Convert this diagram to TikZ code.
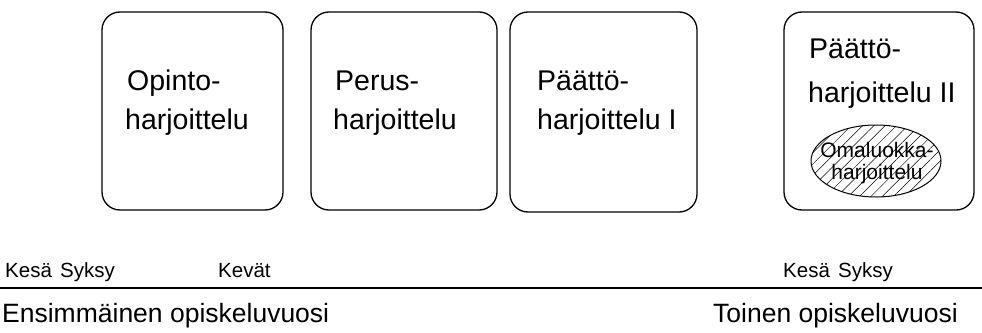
\documentclass[tikz,border=0pt]{standalone}
\usepackage{fontspec}
\setmainfont{Liberation Sans}
\usetikzlibrary{shapes.geometric,patterns.meta}
\begin{document}
\begin{tikzpicture}[x=1pt,y=-1pt,
  phase/.style={draw,line width=1.3pt,rounded corners=18pt},
  boxtext/.style={anchor=base west,inner sep=0pt,font=\fontsize{28.5}{34}\selectfont},
  small/.style={anchor=base west,inner sep=0pt,font=\fontsize{20.5}{22}\selectfont},
  year/.style={anchor=base west,inner sep=0pt,font=\fontsize{26.5}{30}\selectfont},
  inner/.style={draw,line width=1pt,ellipse,minimum width=130pt,minimum height=72pt,
    pattern={Lines[angle=45,distance=8pt,line width=0.5pt]}},
  innertext/.style={align=center,inner sep=0pt,font=\fontsize{21}{22}\selectfont}]
\useasboundingbox (0,0) rectangle (982,332);

% practice periods
\draw[phase] (102,12) rectangle (283,210) coordinate (b1);
\draw[phase] (311,12) rectangle (497,210) coordinate (b2);
\draw[phase] (510,12) rectangle (697,212) coordinate (b3);
\draw[phase] (784,12) rectangle (974,210) coordinate (b4);

\node[boxtext] (t1a) at (127,90) {Opinto-};
\node[boxtext] (t1b) at (125,129) {harjoittelu};
\node[boxtext] (t2a) at (335,90) {Perus-};
\node[boxtext] (t2b) at (333,129) {harjoittelu};
\node[boxtext] (t3a) at (537,90) {Päättö-};
\node[boxtext] (t3b) at (537,129) {harjoittelu I};
\node[boxtext] (t4a) at (809,58) {Päättö-};
\node[boxtext] (t4b) at (808,102) {harjoittelu II};

% own-class practice inside the final period
\node[inner] (own) at (876,161) {};
\node[innertext] (ownt) at (877,163) {Omaluokka-\\harjoittelu};

% timeline
\node[small] (s1) at (5,277) {Kesä};
\node[small] (s2) at (60,277) {Syksy};
\node[small] (s3) at (218,277) {Kevät};
\node[small] (s4) at (783,277) {Kesä};
\node[small] (s5) at (838,277) {Syksy};
\coordinate (l0) at (0,288);
\coordinate (l1) at (982,288);
\draw[line width=1.6pt] (l0) -- (l1);

\node[year] (y1) at (2,322) {Ensimmäinen opiskeluvuosi};
\node[year] (y2) at (713,322) {Toinen opiskeluvuosi};
\end{tikzpicture}
\end{document}
